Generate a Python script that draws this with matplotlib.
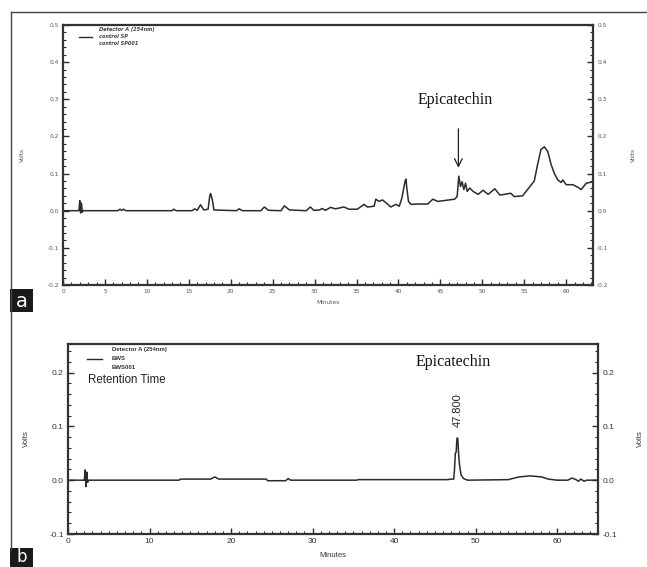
import matplotlib
matplotlib.use("Agg")
import matplotlib.pyplot as plt
from matplotlib.lines import Line2D
from matplotlib.patches import Rectangle
from matplotlib.ticker import MultipleLocator

# --- panel a: control SP chromatogram ---
time_a = [0, 1.9, 2.0, 2.1, 2.2, 2.3, 2.4, 6.5, 6.8, 7.0, 7.2, 7.5, 13.0, 13.2, 13.5,
          15.4, 15.7, 16.0, 16.4, 16.8, 17.3, 17.5, 17.6, 17.8, 18.0, 20.7, 21.0, 21.4,
          23.6, 24.0, 24.5, 26.0, 26.4, 27.0, 29.0, 29.5, 29.9, 30.6, 30.9, 31.3, 31.9,
          32.5, 33.5, 34.1, 35.1, 35.9, 36.3, 37.1, 37.3, 37.7, 38.1, 38.7, 39.1, 39.7,
          40.1, 40.4, 40.8, 40.9, 41.0, 41.2, 41.5, 42.3, 43.5, 44.1, 44.7, 46.7, 47.0,
          47.2, 47.4, 47.6, 47.8, 48.0, 48.2, 48.5, 48.9, 49.5, 50.1, 50.7, 51.5, 52.1,
          53.4, 53.8, 54.8, 55.4, 56.2, 56.6, 57.0, 57.4, 57.8, 58.2, 58.6, 59.0, 59.4, 59.6,
          60.0, 60.8, 61.4, 61.8, 62.4, 63.2]
volts_a = [0, 0, 0.027, -0.006, 0.02, -0.004, 0, 0, 0.004, 0.001, 0.004, 0, 0, 0.004, 0,
           0, 0.005, 0.001, 0.016, 0.002, 0.004, 0.04, 0.046, 0.03, 0.002, 0, 0.005, 0,
           0, 0.01, 0.001, 0, 0.013, 0.002, 0, 0.01, 0.001, 0.002, 0.006, 0.001, 0.009,
           0.005, 0.01, 0.004, 0.004, 0.017, 0.01, 0.012, 0.031, 0.025, 0.029, 0.018, 0.01, 0.017,
           0.012, 0.033, 0.08, 0.085, 0.06, 0.025, 0.017, 0.018, 0.018, 0.031, 0.025, 0.031, 0.038,
           0.093, 0.065, 0.078, 0.057, 0.074, 0.052, 0.061, 0.052, 0.044, 0.055, 0.044, 0.059, 0.042,
           0.047, 0.038, 0.04, 0.057, 0.08, 0.125, 0.165, 0.172, 0.16, 0.125, 0.1, 0.083, 0.076, 0.083,
           0.07, 0.07, 0.063, 0.057, 0.074, 0.078]
legend_a = ["Detector A (254nm)", "control SP", "control SP001"]

# --- panel b: BWS chromatogram ---
time_b = [0, 2.0, 2.1, 2.2, 2.3, 2.4, 2.5, 13.6, 13.8, 17.5, 18.0, 18.5, 24.3, 24.5,
          26.7, 27.0, 27.3, 35.4, 35.6, 46.6, 46.9, 47.3, 47.4, 47.5, 47.6, 47.7, 47.8,
          47.9, 48.0, 48.2, 48.5, 49.0, 54.0, 54.5, 55.3, 56.7, 58.1, 58.9, 60.0, 61.3,
          61.8, 62.3, 62.6, 62.9, 63.3, 63.6, 65.0]
volts_b = [0, 0, 0.019, -0.012, 0.015, -0.004, 0, 0, 0.002, 0.002, 0.006, 0.002, 0.002, -0.001,
           -0.001, 0.003, 0, 0, 0.001, 0.001, 0.002, 0.002, 0.02, 0.05, 0.052, 0.078, 0.078,
           0.05, 0.03, 0.01, 0.003, 0, 0.001, 0.003, 0.006, 0.008, 0.006, 0.002, 0, 0,
           0.004, 0.001, -0.002, 0.002, -0.002, 0, 0]
legend_b = ["Detector A (254nm)", "BWS", "BWS001"]
peak_b = 47.8

ink = "#2b2b2b"
fig = plt.figure(figsize=(6.47, 5.67), dpi=100)

# outer frame
fig.add_artist(Line2D([0.017, 0.017], [0.03, 0.979], color="#444444", lw=1.0))
fig.add_artist(Line2D([0.017, 1.0], [0.979, 0.979], color="#444444", lw=1.0))

def style_axes(ax, xmaj, xmin, ymaj, ymin, fs, col):
    ax.xaxis.set_major_locator(MultipleLocator(xmaj))
    ax.xaxis.set_minor_locator(MultipleLocator(xmin))
    ax.yaxis.set_major_locator(MultipleLocator(ymaj))
    ax.yaxis.set_minor_locator(MultipleLocator(ymin))
    ax.tick_params(which="both", direction="in", top=False, right=True,
                   labelright=True, colors=ink, labelcolor=col, labelsize=fs, pad=3)
    ax.tick_params(which="major", length=4, width=1)
    ax.tick_params(which="minor", length=2, width=0.8)
    for s in ax.spines.values():
        s.set_linewidth(1.6)
        s.set_color("#333333")

# top panel
ax1 = fig.add_axes([0.0974, 0.4974, 0.8191, 0.4585])
ax1.plot(time_a, volts_a, color=ink, lw=1.1)
ax1.set_xlim(0, 63.2)
ax1.set_ylim(-0.2, 0.5)
style_axes(ax1, 5, 1, 0.1, 0.02, 4.2, "#555555")
ax1.yaxis.set_major_formatter(plt.FuncFormatter(lambda v, p: "%.1f" % v))
ax1.set_xlabel("Minutes", fontsize=4.2, color="#555555", labelpad=4)
ax1.set_ylabel("Volts", fontsize=4.2, color="#555555", labelpad=16)
ax1r = ax1.secondary_yaxis("right")
ax1r.set_yticks([])
ax1r.spines["right"].set_visible(False)
ax1r.set_ylabel("Volts", fontsize=4.2, color="#555555", labelpad=27)
ax1.plot([1.9, 3.4], [0.468, 0.468], color=ink, lw=1)
for i, txt in enumerate(legend_a):
    ax1.text(4.3, 0.487 - i * 0.0185, txt, fontsize=3.6, color="#444444",
             fontstyle="italic", fontweight="bold", va="center")
ax1.text(46.8, 0.298, "Epicatechin", family="Liberation Serif", fontsize=11.5,
         ha="center", va="center", color="#111111")
ax1.annotate("", xy=(47.15, 0.108), xytext=(47.15, 0.228),
             arrowprops=dict(arrowstyle="->", color="#222222", lw=0.9,
                             mutation_scale=14))

# bottom panel
ax2 = fig.add_axes([0.1051, 0.0582, 0.8192, 0.3351])
ax2.plot(time_b, volts_b, color=ink, lw=1.1)
ax2.set_xlim(0, 65)
ax2.set_ylim(-0.1, 0.253)
style_axes(ax2, 10, 1, 0.1, 0.02, 6, "#333333")
ax2.yaxis.set_major_formatter(plt.FuncFormatter(lambda v, p: "%.1f" % v))
ax2.set_xlabel("Minutes", family="Liberation Sans", fontsize=5.5, color="#333333", labelpad=5)
ax2.set_ylabel("Volts", family="Liberation Sans", fontsize=5.5, color="#333333", labelpad=14)
ax2r = ax2.secondary_yaxis("right")
ax2r.set_yticks([])
ax2r.spines["right"].set_visible(False)
ax2r.set_ylabel("Volts", family="Liberation Sans", fontsize=5.5, color="#333333", labelpad=28)
for lab in ax2.get_xticklabels() + ax2.get_yticklabels():
    lab.set_family("Liberation Sans")
ax2.plot([2.3, 4.2], [0.226, 0.226], color=ink, lw=1)
for i, txt in enumerate(legend_b):
    ax2.text(5.4, 0.243 - i * 0.0165, txt, family="Liberation Sans", fontsize=4.3,
             color="#333333", fontweight="bold", va="center")
ax2.text(2.45, 0.187, "Retention Time", family="Liberation Sans", fontsize=8.3,
         va="center", color="#222222")
ax2.text(47.2, 0.219, "Epicatechin", family="Liberation Serif", fontsize=11.5,
         ha="center", va="center", color="#111111")
ax2.text(peak_b + 0.05, 0.131, "%.3f" % peak_b, family="Liberation Sans", fontsize=8,
         rotation=90, ha="center", va="center", color="#222222")

# panel letters
for y0, h, letter, ty, fs in [(0.4497, 0.0406, "a", 0.468, 14), (0.0, 0.0335, "b", 0.017, 12)]:
    fig.add_artist(Rectangle((0.0155, y0), 0.0355, h, transform=fig.transFigure,
                             facecolor="#1a1a1a", edgecolor="none"))
    fig.text(0.0333, ty, letter, color="white", fontsize=fs, ha="center", va="center")

fig.savefig("out.png", dpi=100)
